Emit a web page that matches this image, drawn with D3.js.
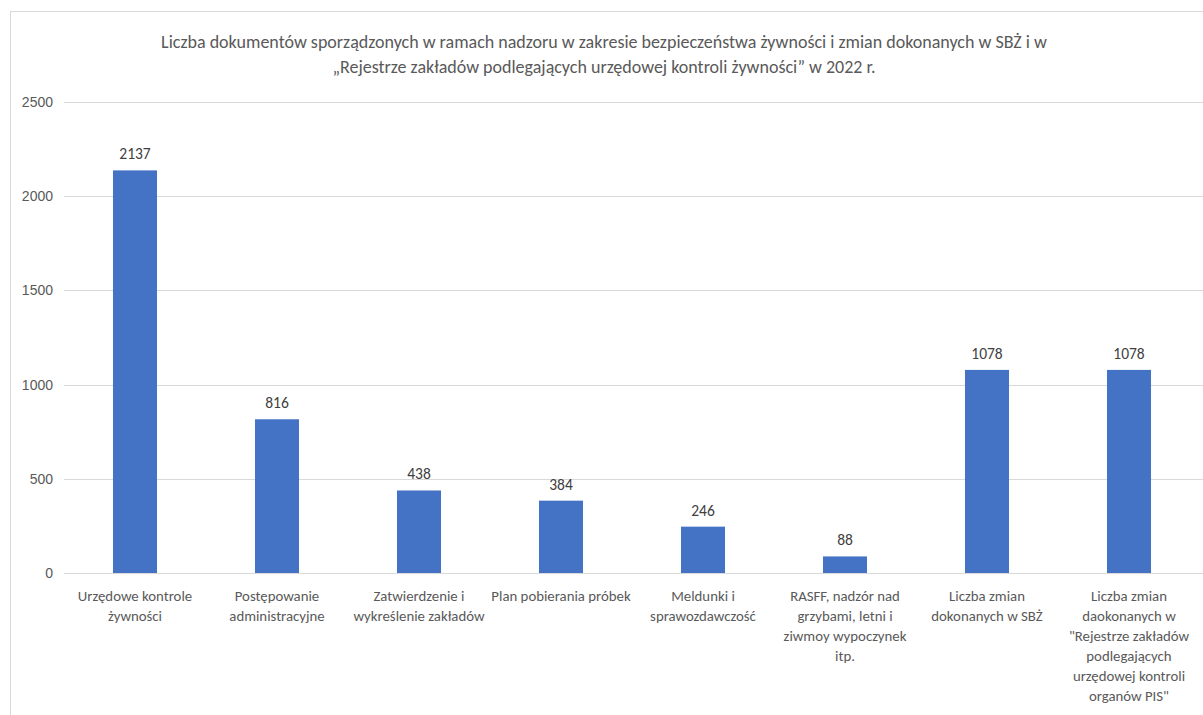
<!DOCTYPE html>
<html><head><meta charset="utf-8">
<script src="https://cdn.jsdelivr.net/npm/d3@7"></script>
<style>
html,body{margin:0;padding:0;background:#fff;}
svg{display:block;font-family:Carlito,"Liberation Sans Narrow","Open Sans",sans-serif;}
</style></head>
<body><svg id="c" width="1203" height="715"></svg>
<script>
const titleLines = ["Liczba dokumentów sporządzonych w ramach nadzoru w zakresie bezpieczeństwa żywności i zmian dokonanych w SBŻ i w",
  "„Rejestrze zakładów podlegających urzędowej kontroli żywności” w 2022 r."];
const categories = [
  "Urzędowe kontrole\nżywności",
  "Postępowanie\nadministracyjne",
  "Zatwierdzenie i\nwykreślenie zakładów",
  "Plan pobierania próbek",
  "Meldunki i\nsprawozdawczość",
  "RASFF, nadzór nad\ngrzybami, letni i\nziwmoy wypoczynek\nitp.",
  "Liczba zmian\ndokonanych w SBŻ",
  "Liczba zmian\ndaokonanych w\n\"Rejestrze zakładów\npodlegających\nurzędowej kontroli\norganów PIS\""
];
const values = [2137, 816, 438, 384, 246, 88, 1078, 1078];
const yTicks = [0, 500, 1000, 1500, 2000, 2500];

const svg = d3.select("#c");
const text = "#595959";
// outer border
svg.append("rect").attr("x",10.5).attr("y",11.5).attr("width",1220).attr("height",720)
  .attr("fill","none").attr("stroke","#d9d9d9").attr("stroke-width",1);

const x = d3.scaleBand().domain(categories).range([64,1200]).paddingInner(0.69).paddingOuter(0.345);
const y = d3.scaleLinear().domain([0,2500]).range([573,102]);

// gridlines
svg.append("g").selectAll("line").data(yTicks).join("line")
  .attr("x1",64).attr("x2",1203).attr("y1",d=>Math.round(y(d))+0.5).attr("y2",d=>Math.round(y(d))+0.5)
  .attr("stroke","#d9d9d9").attr("stroke-width",1);

// y axis labels
const yAxis = d3.axisLeft(y).tickValues(yTicks).tickSize(0).tickPadding(0).tickFormat(d3.format("d"));
const ga = svg.append("g").attr("transform","translate(53,0)").call(yAxis);
ga.select(".domain").remove();
ga.selectAll("text").attr("fill",text).attr("font-size",14).attr("font-family",null);

// bars
svg.append("g").selectAll("rect").data(values).join("rect")
  .attr("x",(d,i)=>x(categories[i])).attr("width",x.bandwidth())
  .attr("y",d=>y(d)).attr("height",d=>y(0)-y(d)).attr("fill","#4472c4");

// value labels
svg.append("g").selectAll("text").data(values).join("text")
  .attr("x",(d,i)=>x(categories[i])+x.bandwidth()/2).attr("y",d=>y(d)-11)
  .attr("text-anchor","middle").attr("fill","#404040").attr("font-size",15.5).text(d=>d);

// category labels
const cl = svg.append("g").selectAll("text").data(categories).join("text")
  .attr("x",d=>x(d)+x.bandwidth()/2).attr("y",601)
  .attr("text-anchor","middle").attr("fill",text).attr("font-size",14.8);
cl.each(function(d){
  const t = d3.select(this);
  d.split("\n").forEach((ln,j)=>{
    t.append("tspan").attr("x",t.attr("x")).attr("dy",j===0?0:20).text(ln);
  });
});

// title
svg.append("g").selectAll("text").data(titleLines).join("text")
  .attr("x",604).attr("y",(d,i)=>48+i*25).attr("text-anchor","middle")
  .attr("fill",text).attr("font-size",18).text(d=>d);
</script></body></html>
